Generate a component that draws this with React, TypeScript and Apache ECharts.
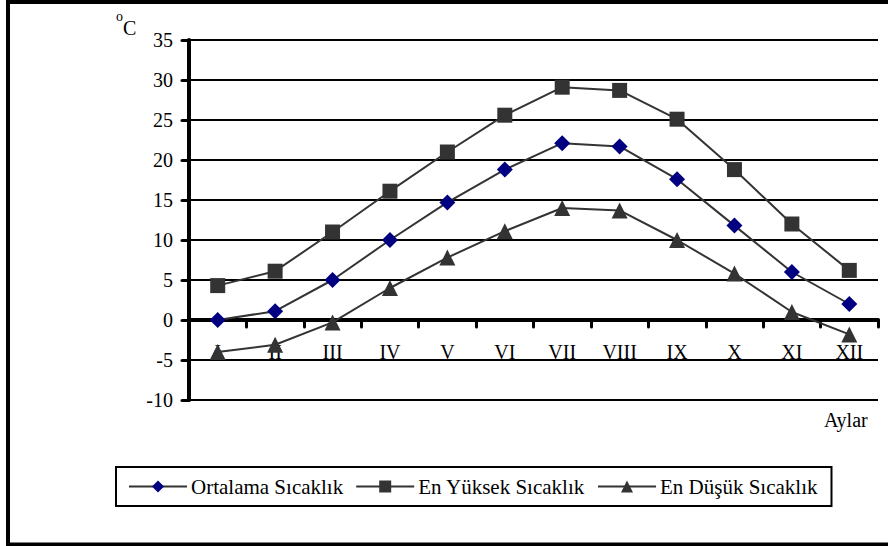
import React, { useEffect, useRef } from "react";
import * as echarts from "echarts";

const months = ["I", "II", "III", "IV", "V", "VI", "VII", "VIII", "IX", "X", "XI", "XII"];
const ortalama = [0, 1.1, 5, 10, 14.7, 18.8, 22.1, 21.7, 17.6, 11.8, 6, 2];
const enYuksek = [4.3, 6.1, 11, 16.1, 21, 25.6, 29.1, 28.7, 25.1, 18.8, 12, 6.2];
const enDusuk = [-4, -3.1, -0.3, 4, 7.8, 11.1, 14, 13.7, 10, 5.8, 1, -1.8];
const seriesNames = ["Ortalama Sıcaklık", "En Yüksek Sıcaklık", "En Düşük Sıcaklık"];

const FONT = "Liberation Serif";

export default function App() {
  const ref = useRef<HTMLDivElement>(null);
  useEffect(() => {
    if (!ref.current) return;
    const chart = echarts.init(ref.current, undefined, { renderer: "svg" });
    const lineStyle = { color: "#333333", width: 2 };
    chart.setOption({
      animation: false,
      backgroundColor: "#ffffff",
      textStyle: { fontFamily: FONT },
      graphic: [
        {
          type: "rect",
          shape: { x: 8, y: 2, width: 920, height: 542.5 },
          style: { fill: "none", stroke: "#000", lineWidth: 4 },
          silent: true,
        },
        {
          type: "text",
          x: 116,
          y: 9,
          style: { text: "o", fontSize: 14, fontFamily: FONT, fill: "#000" },
        },
        {
          type: "text",
          x: 123,
          y: 18,
          style: { text: "C", fontSize: 20, fontFamily: FONT, fill: "#000" },
        },
        {
          type: "text",
          x: 824,
          y: 410,
          style: { text: "Aylar", fontSize: 20, fontFamily: FONT, fill: "#000" },
        },
      ],
      legend: {
        left: 116,
        top: 467,
        data: seriesNames,
        borderColor: "#000",
        borderWidth: 2,
        padding: [9, 14, 9, 12],
        itemGap: 12,
        itemWidth: 58,
        itemHeight: 15,
        textStyle: { fontSize: 21, fontFamily: FONT, color: "#000", padding: [0, 0, 0, -1] },
      },
      grid: { left: 189, right: 10, top: 40, bottom: 146, containLabel: false },
      xAxis: {
        type: "category",
        data: months,
        boundaryGap: true,
        offset: -80,
        axisLine: { show: true, onZero: false, lineStyle: { color: "#000", width: 4 } },
        axisTick: { show: true, inside: false, length: 7, alignWithLabel: false, lineStyle: { color: "#000", width: 3, cap: "round" } },
        axisLabel: { margin: 22, fontSize: 20, fontFamily: FONT, color: "#000" },
        splitLine: { show: false },
      },
      yAxis: {
        type: "value",
        min: -10,
        max: 35,
        interval: 5,
        axisLine: { show: true, lineStyle: { color: "#000", width: 4 } },
        axisTick: { show: true, inside: false, length: 7, lineStyle: { color: "#000", width: 3, cap: "round" } },
        axisLabel: { margin: 16, fontSize: 20, fontFamily: FONT, color: "#000" },
        splitLine: { show: true, lineStyle: { color: "#000", width: 2 } },
      },
      series: [
        {
          name: seriesNames[0],
          type: "line",
          data: ortalama,
          symbol: "diamond",
          symbolSize: 16,
          lineStyle,
          itemStyle: { color: "#000080" },
          z: 5,
        },
        {
          name: seriesNames[1],
          type: "line",
          data: enYuksek,
          symbol: "rect",
          symbolSize: 15,
          lineStyle,
          itemStyle: { color: "#333333" },
          z: 4,
        },
        {
          name: seriesNames[2],
          type: "line",
          data: enDusuk,
          symbol: "triangle",
          symbolSize: 16,
          lineStyle,
          itemStyle: { color: "#333333" },
          z: 3,
        },
      ],
    });
    return () => chart.dispose();
  }, []);
  return (
    <div
      ref={ref}
      style={{ position: "fixed", left: 0, top: 0, width: 888, height: 546, background: "#fff" }}
    />
  );
}
